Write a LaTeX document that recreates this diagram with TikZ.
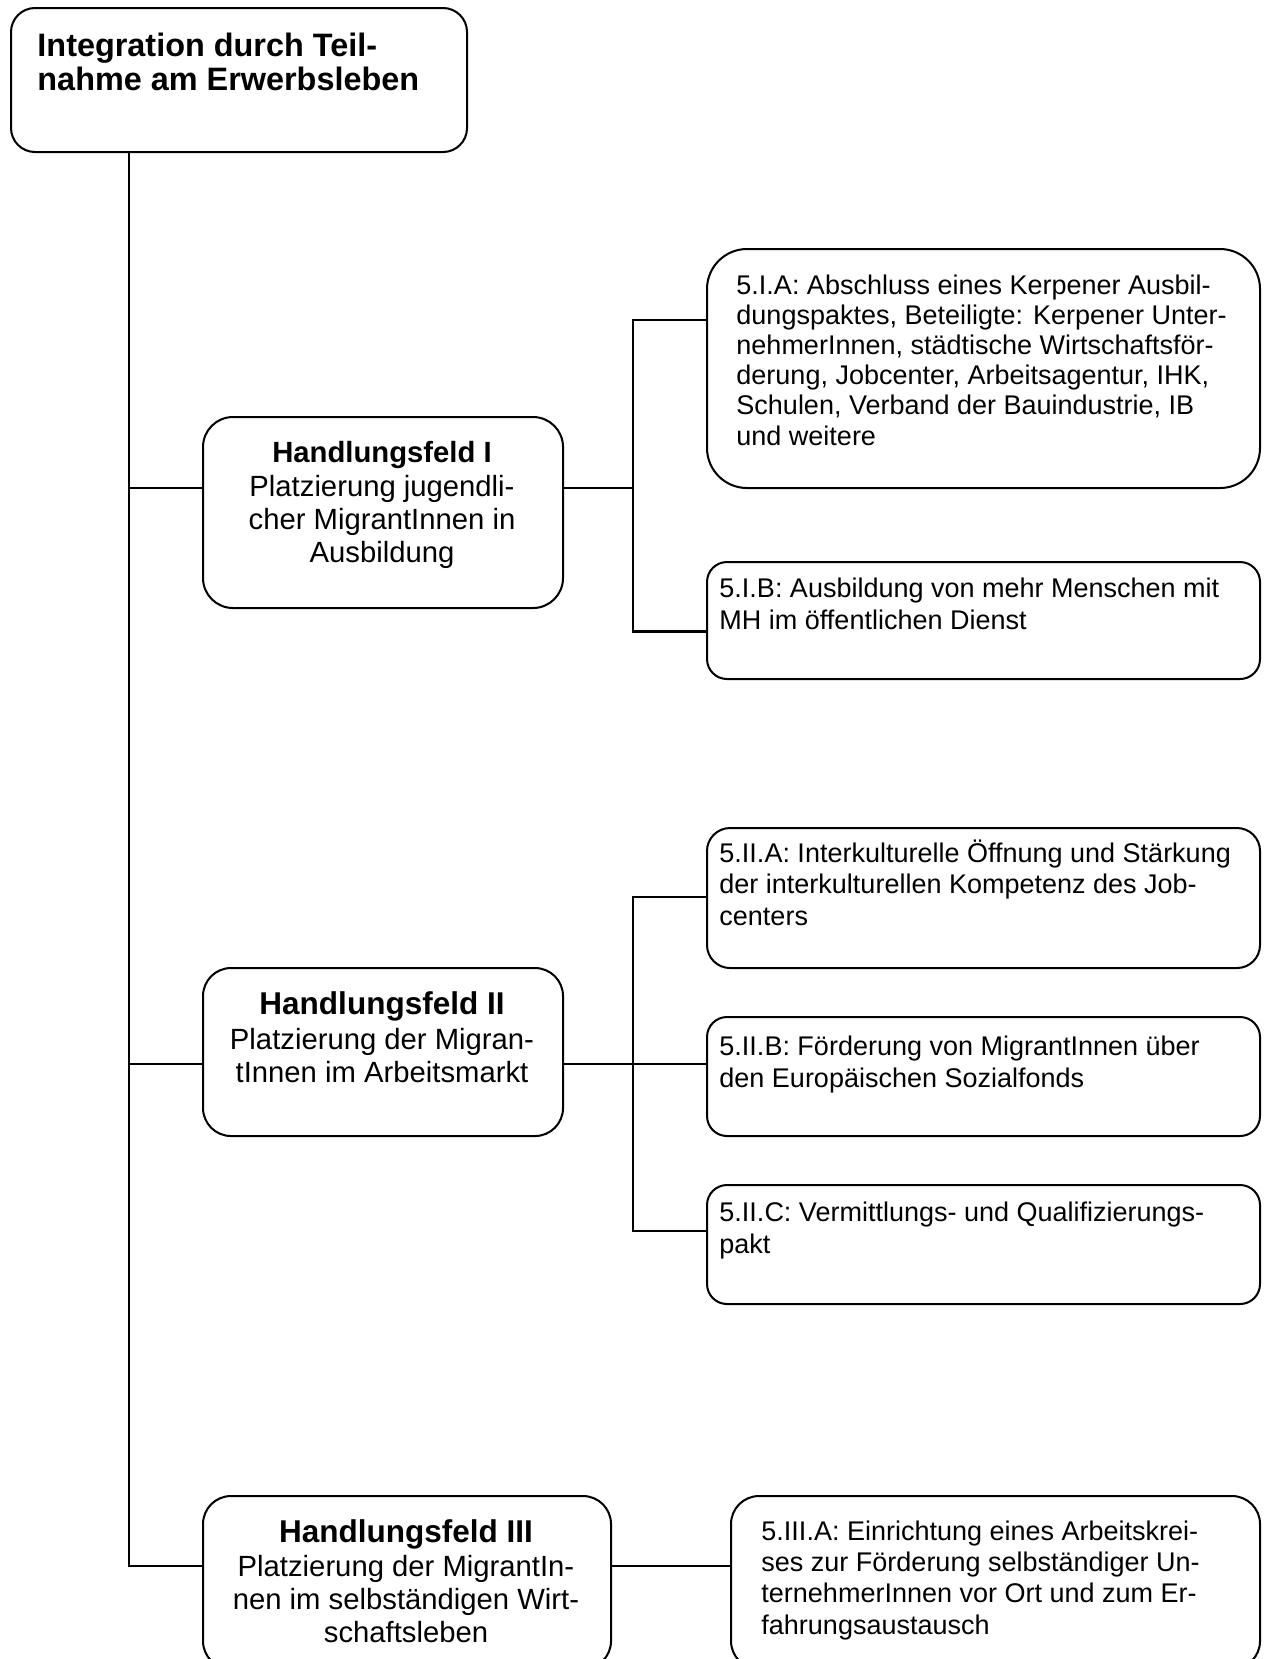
\documentclass[tikz,border=0pt]{standalone}
\usepackage{fontspec}
\setmainfont{Liberation Sans}
\def\u{0.4444pt}
\tikzset{
  bx/.style={draw, line width=0.9pt, inner sep=0pt, anchor=north west},
  ln/.style={line width=0.9pt},
  lt/.style={font=\fontsize{12pt}{13.8pt}\selectfont, align=left, anchor=base west, inner sep=0pt},
  ct/.style={font=\fontsize{13pt}{14.5pt}\selectfont, align=center, anchor=base, inner sep=0pt},
  hdS/.style={font=\fontsize{13pt}{14.5pt}\selectfont\bfseries, anchor=base, inner sep=0pt},
  hdL/.style={font=\fontsize{14pt}{15pt}\selectfont\bfseries, anchor=base, inner sep=0pt},
}
\newcommand\mkbox[6]{\node[bx, rounded corners={#6*\u}, minimum width={(#4-#2)*\u}, minimum height={(#5-#3)*\u}] (#1) at (#2,#3) {};}
\begin{document}
\begin{tikzpicture}[x=\u, y=-\u]
\useasboundingbox (0,0) rectangle (1263,1659);
\clip (0,0) rectangle (1263,1659);
% boxes
\mkbox{top}{10}{7}{466}{151}{24}
\mkbox{h1}{202}{416}{562}{607}{30}
\mkbox{a1}{706}{248}{1259}{487}{40}
\mkbox{b1}{706}{561}{1259}{678}{20}
\mkbox{h2}{202}{967}{562}{1135}{28}
\mkbox{a2}{706}{827}{1259}{967}{23}
\mkbox{b2}{706}{1016}{1259}{1135}{20}
\mkbox{c2}{706}{1184}{1259}{1303}{20}
\mkbox{h3}{202}{1495}{610}{1668}{28}
\mkbox{a3}{730}{1495}{1259}{1668}{28}
% junction coordinates
\coordinate (r0) at (129,151);
\coordinate (j1) at (129,488);
\coordinate (j2) at (129,1064);
\coordinate (j3) at (129,1565.5);
\coordinate (k1) at (633,488);
\coordinate (k1a) at (633,320);
\coordinate (k1b) at (633,631.5);
\coordinate (k2) at (633,1064);
\coordinate (k2a) at (633,897);
\coordinate (k2c) at (633,1231);
% connectors
\draw[ln] (r0) -- (j3) -- (j3 -| h3.west);
\draw[ln] (j1) -- (j1 -| h1.west);
\draw[ln] (j2) -- (j2 -| h2.west);
\draw[ln] (k1 -| h1.east) -- (k1);
\draw[ln] (k1a -| a1.west) -- (k1a) -- (k1b) -- (k1b -| b1.west);
\draw[ln] (k2 -| h2.east) -- (k2 -| b2.west);
\draw[ln] (k2a -| a2.west) -- (k2a) -- (k2c) -- (k2c -| c2.west);
\draw[ln] (j3 -| h3.east) -- (j3 -| a3.west);
% texts (anchor = baseline of last line)
\node[font=\fontsize{14.4pt}{14.9pt}\selectfont\bfseries, align=left, anchor=base west, inner sep=0pt] (ttop) at (37,90) {Integration durch Teil-\\nahme am Erwerbsleben};
\node[hdS] (th1) at (382,462) {Handlungsfeld I};
\node[ct] (tb1) at (382,562) {Platzierung jugendli-\\cher MigrantInnen in\\Ausbildung};
\node[hdL] (th2) at (382,1014) {Handlungsfeld II};
\node[ct] (tb2) at (382,1082) {Platzierung der Migran-\\tInnen im Arbeitsmarkt};
\node[hdL] (th3) at (406,1542) {Handlungsfeld III};
\node[ct] (tb3) at (406,1642) {Platzierung der MigrantIn-\\nen im selbständigen Wirt-\\schaftsleben};
\node[lt, font=\fontsize{12pt}{13.35pt}\selectfont] (ta1) at (736,445) {5.I.A: Abschluss eines Kerpener Ausbil-\\dungspaktes, Beteiligte: Kerpener Unter-\\nehmerInnen, städtische Wirtschaftsför-\\derung, Jobcenter, Arbeitsagentur, IHK,\\Schulen, Verband der Bauindustrie, IB\\und weitere};
\node[lt] (tb1r) at (719,629) {5.I.B: Ausbildung von mehr Menschen mit\\MH im öffentlichen Dienst};
\node[lt] (ta2) at (719,925) {5.II.A: Interkulturelle Öffnung und Stärkung\\der interkulturellen Kompetenz des Job-\\centers};
\node[lt] (tb2r) at (719,1087) {5.II.B: Förderung von MigrantInnen über\\den Europäischen Sozialfonds};
\node[lt] (tc2) at (719,1253) {5.II.C: Vermittlungs- und Qualifizierungs-\\pakt};
\node[lt] (ta3) at (761,1634) {5.III.A: Einrichtung eines Arbeitskrei-\\ses zur Förderung selbständiger Un-\\ternehmerInnen vor Ort und zum Er-\\fahrungsaustausch};
\end{tikzpicture}
\end{document}
